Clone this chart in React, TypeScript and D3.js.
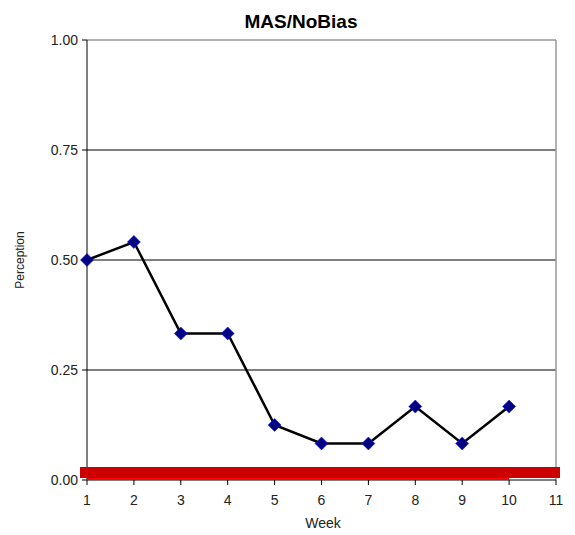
import React from 'react';
import * as d3 from 'd3';

const weeks = [1, 2, 3, 4, 5, 6, 7, 8, 9, 10];
const perception = [0.5, 0.541, 0.333, 0.333, 0.125, 0.083, 0.083, 0.167, 0.083, 0.167];
const baseline = [0, 0, 0, 0, 0, 0, 0, 0, 0, 0];
const xTicks = [1, 2, 3, 4, 5, 6, 7, 8, 9, 10, 11];
const yTicks = [0, 0.25, 0.5, 0.75, 1];

const W = 575;
const H = 535;
const margin = { top: 40, right: 19, bottom: 55, left: 87 };

const App = () => {
  const x = d3.scaleLinear().domain([1, 11]).range([margin.left, W - margin.right]);
  const y = d3.scaleLinear().domain([0, 1]).range([H - margin.bottom, margin.top]);

  const line = d3.line<number>()
    .x((_, i) => x(weeks[i]))
    .y((d) => y(d));

  // square diamond, like Excel's marker
  const r = 6.5;
  const diamond = `M0,${-r}L${r},0L0,${r}L${-r},0Z`;
  const font = 'Arial, "Liberation Sans", sans-serif';

  return (
    <svg width={W} height={H} style={{ position: 'absolute', left: 0, top: 0, background: '#fff' }}>
      <text x={301} y={28} textAnchor="middle" fontFamily={font} fontWeight="bold" fontSize={19}>MAS/NoBias</text>

      {/* gridlines */}
      {yTicks.filter((t) => t > 0 && t < 1).map((t) => (
        <line key={t} x1={x(1)} x2={x(11)} y1={y(t)} y2={y(t)} stroke="#000" strokeWidth={1} />
      ))}
      <line x1={x(1)} x2={x(11)} y1={y(1)} y2={y(1)} stroke="#999" strokeWidth={1.5} />
      <line x1={x(11)} x2={x(11)} y1={y(1)} y2={y(0)} stroke="#999" strokeWidth={1.5} />

      {/* axes */}
      <line x1={x(1)} x2={x(1)} y1={y(1)} y2={y(0)} stroke="#000" />
      <line x1={x(1)} x2={x(11)} y1={y(0)} y2={y(0)} stroke="#000" />
      {yTicks.map((t) => (
        <g key={t}>
          <line x1={x(1) - 5} x2={x(1)} y1={y(t)} y2={y(t)} stroke="#000" />
          <text x={x(1) - 9} y={y(t) + 5} textAnchor="end" fontFamily={font} fontSize={14} fill="#222">{t.toFixed(2)}</text>
        </g>
      ))}
      {xTicks.map((t) => (
        <g key={t}>
          <line x1={x(t)} x2={x(t)} y1={y(0)} y2={y(0) + 5} stroke="#000" />
          <text x={x(t)} y={y(0) + 25} textAnchor="middle" fontFamily={font} fontSize={14} fill="#222">{t}</text>
        </g>
      ))}
      <text x={323} y={528} textAnchor="middle" fontFamily={font} fontSize={14} fill="#222">Week</text>
      <text transform={`translate(24, ${y(0.5)}) rotate(-90)`} textAnchor="middle" fontFamily={font} fontSize={12} fill="#222">Perception</text>

      {/* zero series */}
      <path d={line(baseline) ?? ''} fill="none" stroke="#ff0000" strokeWidth={3} transform="translate(0,-1.5)" />
      <rect x={x(1) - 7} y={y(0) - 13} width={x(11) - x(1) + 11} height={11} fill="#cc0000" />

      {/* perception series */}
      <path d={line(perception) ?? ''} fill="none" stroke="#000" strokeWidth={2.5} />
      {perception.map((d, i) => (
        <path key={i} d={diamond} transform={`translate(${x(weeks[i])},${y(d)})`} fill="#000080" stroke="#1a1aff" strokeWidth={0.6} />
      ))}
    </svg>
  );
};

export default App;
